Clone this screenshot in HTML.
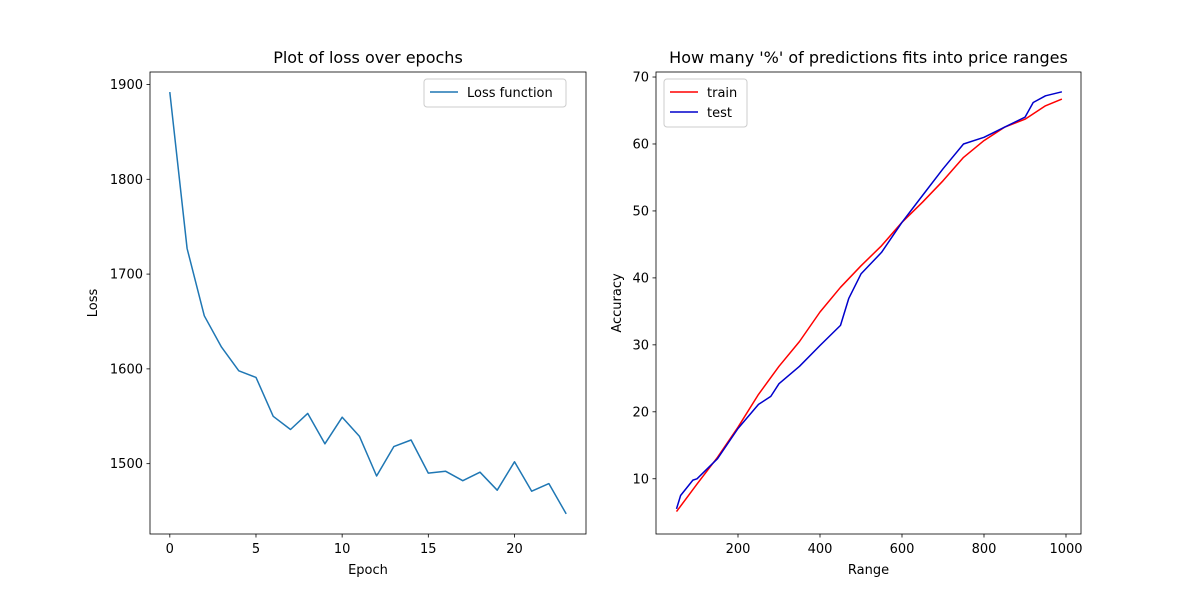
<!DOCTYPE html>
<html><head><meta charset="utf-8"><style>
body{margin:0;background:#fff;}
svg text{font-family:"DejaVu Sans","Liberation Sans",sans-serif;fill:#000;}
</style></head><body>
<svg id="fig" width="1200" height="600" xmlns="http://www.w3.org/2000/svg"></svg>
<script>
const epochs=[0,1,2,3,4,5,6,7,8,9,10,11,12,13,14,15,16,17,18,19,20,21,22,23];
const lossValues=[1892,1727,1656,1623,1598,1591,1550,1536,1553,1521,1549,1529,1487,1518,1525,1490,1492,1482,1491,1472,1502,1471,1479,1447];
const lossXTicks=[0,5,10,15,20];
const lossYTicks=[1500,1600,1700,1800,1900];
const trainRange=[50,100,150,200,250,300,350,400,450,500,550,600,650,700,750,800,850,900,950,990];
const trainAcc=[5.1,9.2,13.2,17.7,22.6,26.8,30.5,34.9,38.6,41.8,44.8,48.3,51.3,54.5,58,60.5,62.5,63.7,65.7,66.7];
const testRange=[50,60,90,100,150,200,250,280,300,350,400,450,470,500,550,600,650,700,750,800,850,900,920,950,990];
const testAcc=[5.5,7.5,9.8,10,13,17.5,21.1,22.3,24.2,26.8,29.9,32.9,36.9,40.6,43.8,48.3,52.3,56.3,60,61,62.5,64,66.2,67.2,67.8];
const accXTicks=[200,400,600,800,1000];
const accYTicks=[10,20,30,40,50,60,70];

const NS="http://www.w3.org/2000/svg";
const svg=document.getElementById('fig');
function mk(tag,attrs,parent){const e=document.createElementNS(NS,tag);for(const k in attrs)e.setAttribute(k,attrs[k]);(parent||svg).appendChild(e);return e;}
function txt(s,attrs){const t=mk('text',attrs);t.textContent=s;return t;}

function panel(o){
  const g=mk('g',{});
  
  
  const sx=v=>o.x0+(v-o.xmin)/(o.xmax-o.xmin)*(o.x1-o.x0);
  const sy=v=>o.y1-(v-o.ymin)/(o.ymax-o.ymin)*(o.y1-o.y0);
  o.series.forEach(s=>{
    const d=s.xs.map((x,i)=>(i?'L':'M')+sx(x).toFixed(1)+' '+sy(s.ys[i]).toFixed(1)).join(' ');
    const p=mk('path',{d:d,fill:'none',stroke:s.color,'stroke-width':1.5,'stroke-linejoin':'round'},g);
    
    
  });
  const fr=mk('rect',{x:o.x0,y:o.y0,width:o.x1-o.x0,height:o.y1-o.y0,fill:'none',stroke:'#000','stroke-width':0.8},g);
  
  
  o.xt.forEach(v=>{const x=sx(v);mk('line',{x1:x,x2:x,y1:o.y1,y2:o.y1+3.5,stroke:'#000','stroke-width':0.8});
    const t=txt(String(v),{x:x,y:o.y1+19,'text-anchor':'middle','font-size':13});
    });
  o.yt.forEach(v=>{const y=sy(v);mk('line',{x1:o.x0-3.5,x2:o.x0,y1:y,y2:y,stroke:'#000','stroke-width':0.8});
    const t=txt(String(v),{x:o.x0-7,y:y+4.5,'text-anchor':'end','font-size':13});
    });
  const ti=txt(o.title,{x:(o.x0+o.x1)/2,y:o.y0-9,'text-anchor':'middle','font-size':16});
  
  const xl=txt(o.xlabel,{x:(o.x0+o.x1)/2,y:o.y1+40,'text-anchor':'middle','font-size':13});
  
  const yl=txt(o.ylabel,{x:0,y:0,'text-anchor':'middle','font-size':13,transform:`translate(${o.ylx},${(o.y0+o.y1)/2}) rotate(-90)`});
  
  const L=o.legend;
  const lg=mk('g',{});
  
  
  mk('rect',{x:L.x,y:L.y,width:L.w,height:8+o.series.length*20,rx:3,fill:'#fff',stroke:'#ccc','stroke-width':1},lg);
  o.series.forEach((s,i)=>{const yy=L.y+13+i*20;
    mk('line',{x1:L.x+6,x2:L.x+34,y1:yy,y2:yy,stroke:s.color,'stroke-width':1.5},lg);
    const t=txt(s.label,{x:L.x+43,y:yy+5,'font-size':13});lg.appendChild(t);
    });
}
panel({name:'loss-chart',x0:150,x1:586,y0:72,y1:534,xmin:-1.15,xmax:24.15,ymin:1425.8,ymax:1913.2,
  xt:lossXTicks,yt:lossYTicks,title:'Plot of loss over epochs',xlabel:'Epoch',ylabel:'Loss',ylx:97,
  series:[{name:'loss-line',label:'Loss function',color:'#1f77b4',xs:epochs,ys:lossValues}],
  legend:{x:424,y:79,w:142}});
panel({name:'accuracy-chart',x0:656,x1:1081,y0:72,y1:534,xmin:0,xmax:1036.6,ymin:1.75,ymax:70.75,
  xt:accXTicks,yt:accYTicks,title:"How many '%' of predictions fits into price ranges",xlabel:'Range',ylabel:'Accuracy',ylx:621,
  series:[{name:'train-line',label:'train',color:'#ff0000',xs:trainRange,ys:trainAcc},
          {name:'test-line',label:'test',color:'#0000cc',xs:testRange,ys:testAcc}],
  legend:{x:664,y:79,w:83}});
</script>
</body></html>
